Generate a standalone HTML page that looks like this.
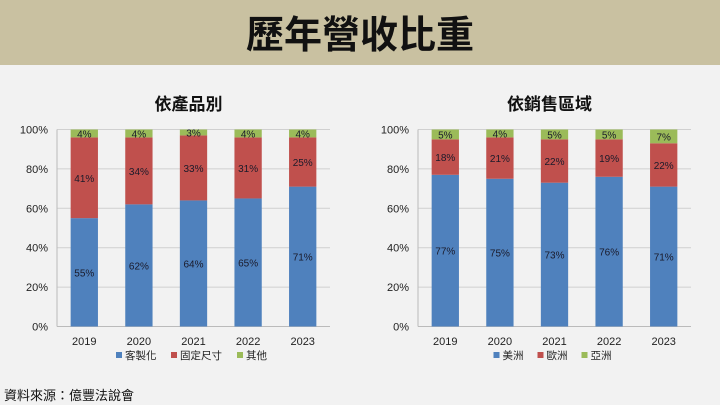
<!DOCTYPE html>
<html><head><meta charset="utf-8"><style>
body{margin:0;width:720px;height:405px;background:#f2f2f2;font-family:"Liberation Sans","Noto Sans CJK TC",sans-serif;overflow:hidden;position:relative}
#hdr{position:absolute;left:0;top:0;width:720px;height:65px;background:#c9c1a1}
#ttl{position:absolute;left:0;top:4px;width:720px;text-align:center;font-size:38px;font-weight:bold;color:#111;font-family:"Noto Sans CJK TC",sans-serif}
#src{position:absolute;left:4px;top:385px;font-size:13px;color:#111;font-family:"Liberation Sans","Noto Sans CJK TC",sans-serif}
svg{position:absolute;left:0;top:0}
</style></head><body>
<div id="hdr"></div>
<div id="ttl">歷年營收比重</div>
<div id="src">資料來源：億豐法說會</div>
<svg id="c" width="720" height="405"></svg>
<script>
const years=["2019","2020","2021","2022","2023"];
const prodSeries=["客製化","固定尺寸","其他"];
const prodA=[55,62,64,65,71];
const prodB=[41,34,33,31,25];
const prodC=[4,4,3,4,4];
const regSeries=["美洲","歐洲","亞洲"];
const regA=[77,75,73,76,71];
const regB=[18,21,22,19,22];
const regC=[5,4,5,5,7];
const ticks=[0,20,40,60,80,100];
const colors=["#4f81bd","#c0504d","#9bbb59"];
const NS="http://www.w3.org/2000/svg";
const svg=document.getElementById('c');
function mk(t,a,p){const e=document.createElementNS(NS,t);for(const k in a)e.setAttribute(k,a[k]);(p||svg).appendChild(e);return e;}
function chart(x0,x1,title,names,series,key){
  const y0=326.5,y1=129.5;
  const g=mk('g',{});
  
  
  const ys=v=>y0-(y0-y1)*v/100;
  const cw=(x1-x0)/years.length;
  const xs=i=>x0+cw*(i+0.5);
  const t=mk('text',{x:(x0+x1)/2-5,y:110,'text-anchor':'middle','font-size':17,'font-weight':'bold',fill:'#111'},g);
  t.textContent=title;
  
  
  ticks.forEach(v=>{
    const l=mk('line',{x1:x0,x2:x1,y1:ys(v),y2:ys(v),stroke:'#d0d0d0','stroke-width':1},g);
    
    
    const tx=mk('text',{x:x0-9,y:ys(v)+4,'text-anchor':'end','font-size':11,fill:'#222'},g);
    tx.textContent=v+'%';
    
    
  });
  mk('line',{x1:x0,x2:x0,y1:y1,y2:y0,stroke:'#bbb'},g);
  mk('line',{x1:x0,x2:x1,y1:y0,y2:y0,stroke:'#bbb'},g);
  const bw=cw*0.5;
  years.forEach((yr,i)=>{
    let base=0;
    series.forEach((arr,s)=>{
      const v=arr[i];
      const r=mk('rect',{x:xs(i)-bw/2,y:ys(base+v),width:bw,height:ys(base)-ys(base+v),fill:colors[s]},g);
      
      
      const lb=mk('text',{x:xs(i),y:ys(base+v/2)+4,'text-anchor':'middle','font-size':10,fill:'#1a1a2a'},g);
      lb.textContent=v+'%';
      
      
      base+=v;
    });
    const xl=mk('text',{x:xs(i),y:345,'text-anchor':'middle','font-size':11,fill:'#222'},g);
    xl.textContent=yr;
    
    
  });
  // legend
  const widths=names.map(n=>14+n.length*11+8);
  const tot=widths.reduce((a,b)=>a+b,0);
  let lx=(x0+x1)/2-tot/2+5;
  names.forEach((n,s)=>{
    const sq=mk('rect',{x:lx,y:352,width:6,height:6,fill:colors[s]},g);
    
    
    const lt=mk('text',{x:lx+9,y:359,'font-size':10.5,fill:'#222'},g);
    lt.textContent=n;
    
    
    lx+=widths[s];
  });
}
chart(57,330,"依產品別",prodSeries,[prodA,prodB,prodC],'product');
chart(418,691,"依銷售區域",regSeries,[regA,regB,regC],'region');
</script>
</body></html>
